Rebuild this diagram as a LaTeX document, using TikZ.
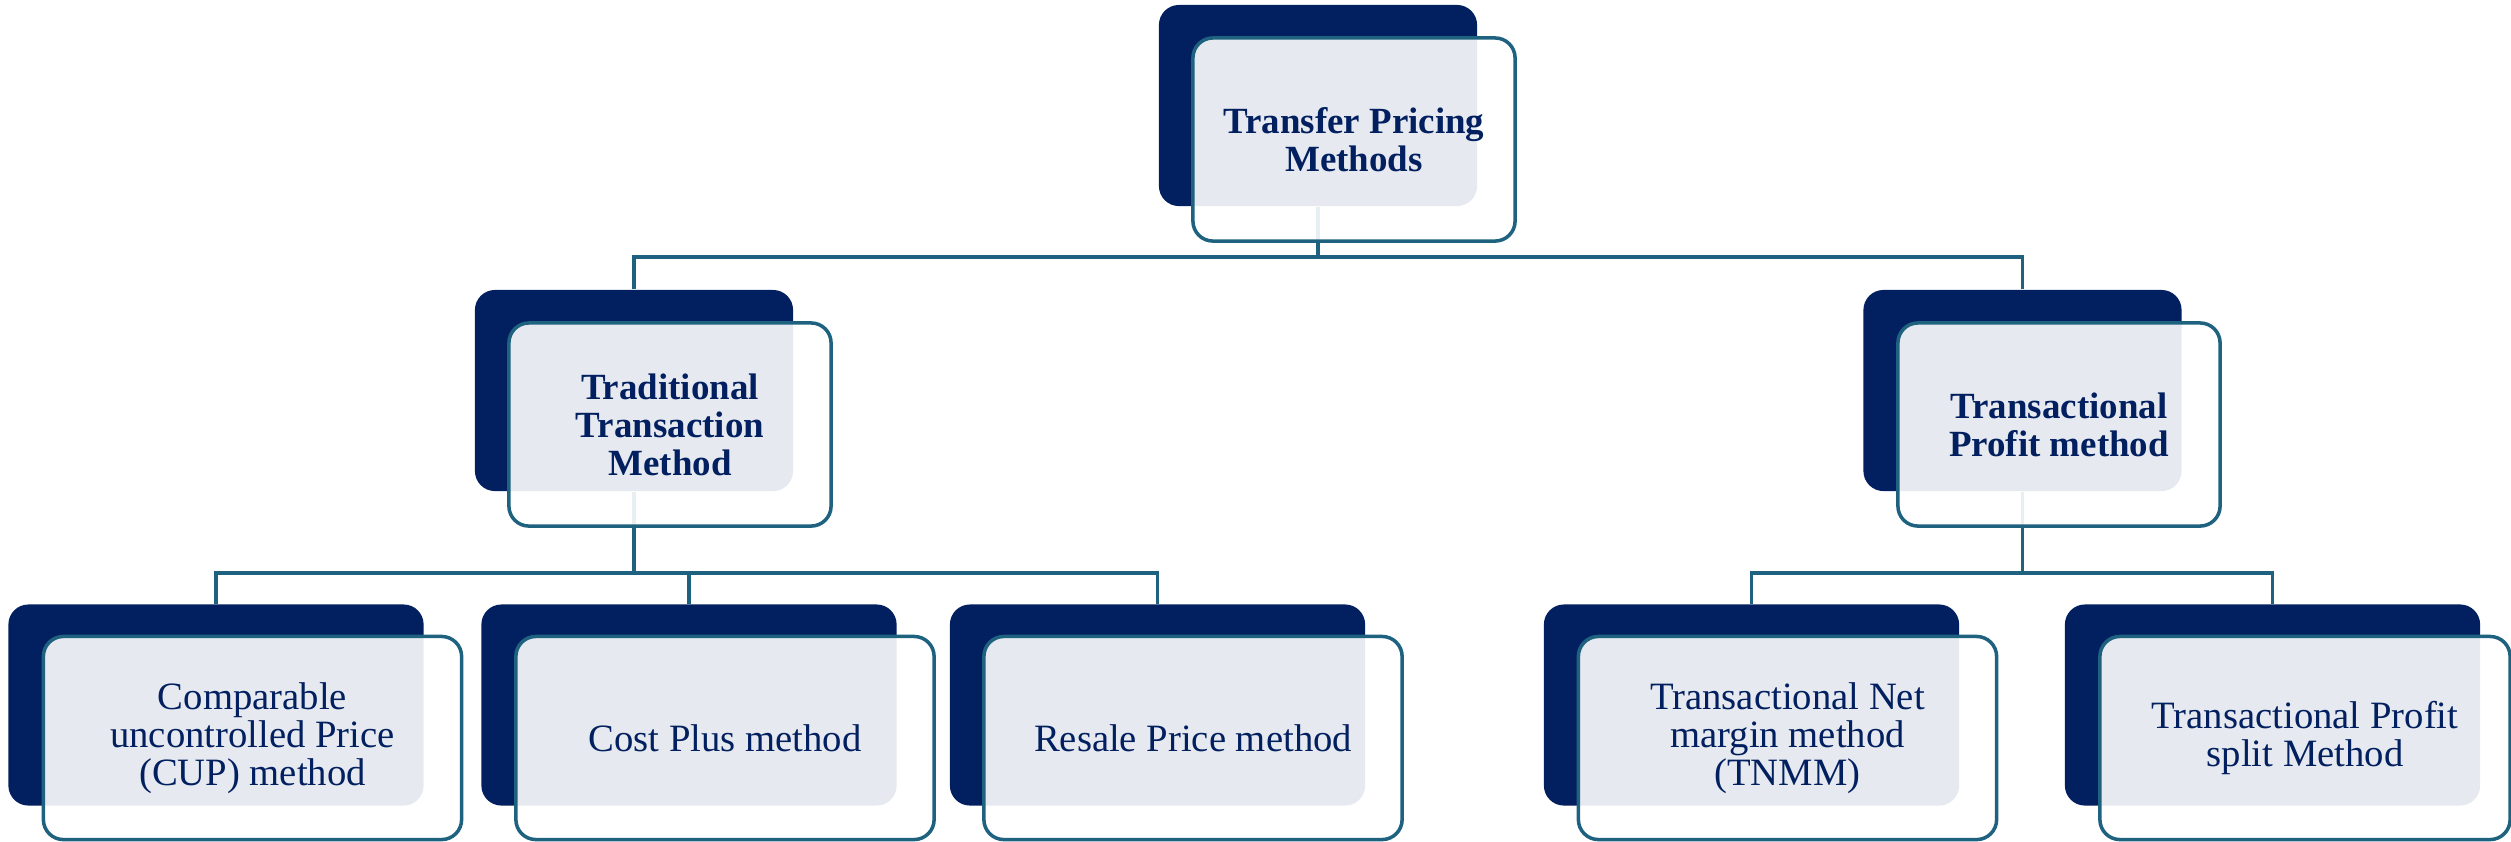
\documentclass[tikz,border=0pt]{standalone}
\usepackage{fontspec}
\setmainfont{Liberation Serif}
\usepackage{tikz}
\usetikzlibrary{positioning,calc}
\definecolor{tpNavy}{RGB}{2,32,96}
\definecolor{tpTeal}{RGB}{30,98,128}
\tikzset{
  darkbox/.style={fill=tpNavy, rounded corners=0.2cm, inner sep=0pt},
  frontbox/.style={draw=tpTeal, line width=1pt, fill=white, fill opacity=0.9,
    text opacity=1, text=tpNavy, rounded corners=0.2cm, inner sep=0pt, align=center},
  upperdark/.style={darkbox, minimum width=3.18cm, minimum height=2.01cm},
  upperfront/.style={frontbox, minimum width=3.22cm, minimum height=2.03cm,
    font=\fontsize{10.5}{10.8}\selectfont\bfseries},
  lowerdark/.style={darkbox, minimum width=4.15cm, minimum height=2.01cm},
  lowerfront/.style={frontbox, minimum width=4.18cm, minimum height=2.03cm,
    font=\fontsize{11}{10.8}\selectfont},
  link/.style={draw=tpTeal, line width=0.9pt}
}
\begin{document}
\begin{tikzpicture}[x=0.01cm, y=-0.01cm]
  \useasboundingbox (0,0) rectangle (2511,841);
  % Back panels
  \node[upperdark] (top-b) at (1318,105.5) {};
  \node[upperdark] (trad-b) at (634,390.5) {};
  \node[upperdark] (tp-b) at (2022.5,390.5) {};
  \node[lowerdark] (cup-b) at (216,705) {};
  \node[lowerdark] (cost-b) at (689,705) {};
  \node[lowerdark] (resale-b) at (1157.5,705) {};
  \node[lowerdark] (tnmm-b) at (1751.5,705) {};
  \node[lowerdark] (tps-b) at (2272.5,705) {};
  % Bus points
  \coordinate (bus-top) at (1318,257);
  \coordinate (bus-trad) at (634,573);
  \coordinate (bus-tp) at (2022.5,573);
  % Connectors
  \draw[link] (top-b.south) -- (bus-top);
  \draw[link] (trad-b.north) |- (bus-top) -| (tp-b.north);
  \draw[link] (trad-b.south) -- (bus-trad);
  \draw[link] (cup-b.north) |- (bus-trad) -| (resale-b.north);
  \draw[link] (bus-trad) -| (cost-b.north);
  \draw[link] (tp-b.south) -- (bus-tp);
  \draw[link] (tnmm-b.north) |- (bus-tp) -| (tps-b.north);
  % Front panels with text
  \node[upperfront] (top) at (1354,139.5) {Transfer Pricing\\Methods};
  \node[upperfront] (trad) at (670,424.5) {Traditional\\Transaction\\Method};
  \node[upperfront] (tp) at (2059,424.5) {Transactional\\Profit method};
  \node[lowerfront] (cup) at (252.5,738) {Comparable\\uncontrolled Price\\(CUP) method};
  \node[lowerfront] (cost) at (725,738) {Cost Plus method};
  \node[lowerfront] (resale) at (1193,738) {Resale Price method};
  \node[lowerfront] (tnmm) at (1787.5,738) {Transactional Net\\margin method\\(TNMM)};
  \node[lowerfront, minimum width=4.1cm] (tps) at (2305,738) {Transactional Profit\\split Method};
\end{tikzpicture}
\end{document}
